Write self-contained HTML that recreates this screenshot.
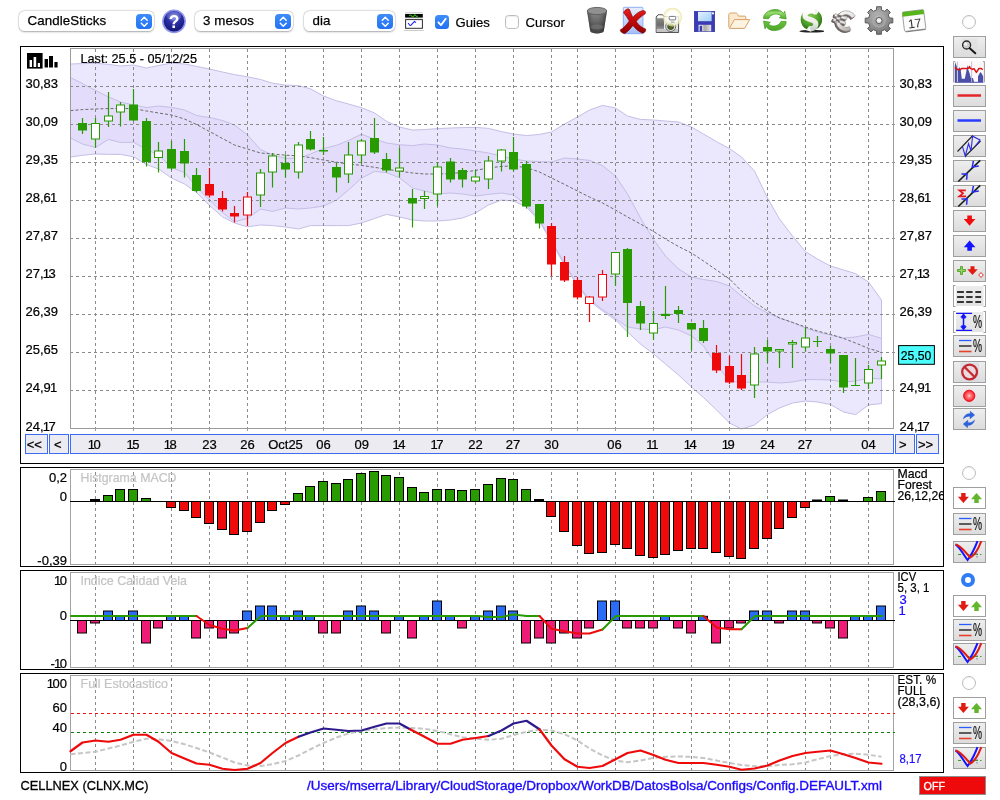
<!DOCTYPE html><html><head><meta charset="utf-8"><title>CELLNEX</title><style>
html,body{margin:0;padding:0;background:#fff}
body{width:1000px;height:800px;position:relative;overflow:hidden;font-family:"Liberation Sans",Arial,sans-serif;font-size:13px;color:#000}
.a{position:absolute}
.sel{position:absolute;top:11px;height:20px;background:#fff;border-radius:5.5px;box-shadow:0 0 0 0.5px rgba(0,0,0,.12),0 0.5px 2px rgba(0,0,0,.30)}
.sel span{position:absolute;left:8.5px;top:2px;font-size:13.3px;line-height:16px;letter-spacing:0.1px;-webkit-text-stroke:0.25px #000}
.stp{position:absolute;right:2px;top:2.5px;width:16.5px;height:15.5px;border-radius:4px;background:linear-gradient(#3f8cf9,#2272f3)}
.lbl{position:absolute;top:14.5px;font-size:13.1px;line-height:16px;-webkit-text-stroke:0.2px #000}
.b{position:absolute;left:953px;width:31px;height:20px;border:1px solid #9f9f9f;background:linear-gradient(#eeeeee,#e4e4e4 55%,#dcdcdc)}
.b.w{background:#fff}
.b.br{border-top-color:transparent;border-bottom-color:transparent;background:linear-gradient(#ececec,#e3e3e3) no-repeat 1.5px 0/27.5px 100%}
.b svg{overflow:visible}
.b svg{position:absolute;left:0;top:0}
.rd{position:absolute;width:12px;height:12px;border-radius:50%;border:1px solid #bdbdbd;background:#fff;box-shadow:inset 0 0.5px 1px rgba(0,0,0,.1)}

</style></head><body><div id="root" style="position:absolute;left:0;top:0;width:1000px;height:800px;will-change:transform">
<svg width="1000" height="800" viewBox="0 0 1000 800" style="position:absolute;left:0;top:0" font-family="'Liberation Sans',Arial,sans-serif" font-size="13" shape-rendering="auto">
<rect x="20.5" y="46.5" width="923" height="417" fill="#fff" stroke="#000"/>
<polygon points="70.5,64 82.5,63.6 95.5,63.2 108.5,64.4 120.5,66 133.5,65 146.5,68 158.5,65.6 171.5,63 184.5,64 196.5,66.4 209.5,69 222.5,72 234.5,74.6 247.5,76.8 260.5,79.5 272.5,83.2 285.5,85.1 298.5,85.6 310.5,88.8 323.5,96 336.5,100.8 348.5,104 361.5,107.7 374.5,112.9 386.5,121.3 399.5,127 412.5,130 424.5,129.6 437.5,128.6 450.5,128 462.5,127.6 475.5,127.4 488.5,128.4 501.5,131.6 513.5,134 526.5,135.6 539.5,134.4 551.5,132 564.5,124 577.5,117 589.5,110 602.5,105.4 615.5,108 627.5,116 640.5,119.4 653.5,120 665.5,121 678.5,122 691.5,127 703.5,134 716.5,141.6 729.5,148.6 741.5,157 754.5,171 767.5,198 779.5,219 792.5,236 805.5,251.6 817.5,259 830.5,266 843.5,270 855.5,273.6 868.5,282 881.5,300 881.5,403.5 868.5,405 855.5,414.6 843.5,412 830.5,404.5 817.5,402 805.5,401 792.5,403 779.5,408 767.5,414.5 754.5,425 741.5,429 729.5,423 716.5,410 703.5,397.5 691.5,387 678.5,375 665.5,364 653.5,354 640.5,344 627.5,332 615.5,320 602.5,311 589.5,301 577.5,286 564.5,265 551.5,242 539.5,221.5 526.5,207 513.5,201 501.5,200 488.5,205 475.5,213 462.5,218 450.5,220 437.5,221 424.5,221 412.5,220 399.5,217 386.5,214.4 374.5,218.5 361.5,223 348.5,225.6 336.5,225.6 323.5,225.6 310.5,225.6 298.5,229 285.5,227 272.5,225.6 260.5,225 247.5,226.9 234.5,223 222.5,216.9 209.5,205.4 196.5,192.4 184.5,184 171.5,178 158.5,169 146.5,164.5 133.5,156.8 120.5,154.4 108.5,154.4 95.5,154 82.5,155.3 70.5,157" fill="#ebe7fd"/>
<polygon points="70.5,77.6 82.5,83.6 95.5,90.4 108.5,97 120.5,102 133.5,105 146.5,107.6 158.5,106 171.5,107.4 184.5,110 196.5,115.5 209.5,117.5 222.5,120.5 234.5,125 247.5,135 260.5,149.5 272.5,155 285.5,158.3 298.5,158.2 310.5,154 323.5,148.5 336.5,145.3 348.5,140.5 361.5,134.2 374.5,139 386.5,143 399.5,144.8 412.5,145.6 424.5,144 437.5,145 450.5,148 462.5,149 475.5,151 488.5,153 501.5,156 513.5,159 526.5,161 539.5,161.6 551.5,162 564.5,158 577.5,159 589.5,160.4 602.5,165.6 615.5,176 627.5,194 640.5,218 653.5,239.5 665.5,256 678.5,269 691.5,277 703.5,279.5 716.5,281.5 729.5,286 741.5,296 754.5,306 767.5,313 779.5,318 792.5,322.4 805.5,328 817.5,332 830.5,335 843.5,338 855.5,337 868.5,334.4 881.5,338.4 881.5,379 868.5,378 855.5,381 843.5,382 830.5,380 817.5,379.6 805.5,379.6 792.5,382 779.5,383 767.5,382 754.5,382 741.5,382.4 729.5,381 716.5,365 703.5,346 691.5,336 678.5,330 665.5,327 653.5,329.6 640.5,329 627.5,327 615.5,318.5 602.5,309.5 589.5,299.5 577.5,284.5 564.5,263.5 551.5,240.5 539.5,220 526.5,205 513.5,195 501.5,193 488.5,194.4 475.5,196 462.5,194 450.5,193 437.5,194 424.5,191 412.5,188 399.5,177.8 386.5,172.6 374.5,171.4 361.5,178.2 348.5,190 336.5,200 323.5,206 310.5,208 298.5,209 285.5,208 272.5,211.4 260.5,209 247.5,218.4 234.5,221.7 222.5,212.6 209.5,200 196.5,187 184.5,172.5 171.5,167.7 158.5,155 146.5,149.5 133.5,142.3 120.5,142.5 108.5,139.4 95.5,147.5 82.5,144 70.5,138" fill="#e3dcfb"/>
<polyline points="70.5,64 82.5,63.6 95.5,63.2 108.5,64.4 120.5,66 133.5,65 146.5,68 158.5,65.6 171.5,63 184.5,64 196.5,66.4 209.5,69 222.5,72 234.5,74.6 247.5,76.8 260.5,79.5 272.5,83.2 285.5,85.1 298.5,85.6 310.5,88.8 323.5,96 336.5,100.8 348.5,104 361.5,107.7 374.5,112.9 386.5,121.3 399.5,127 412.5,130 424.5,129.6 437.5,128.6 450.5,128 462.5,127.6 475.5,127.4 488.5,128.4 501.5,131.6 513.5,134 526.5,135.6 539.5,134.4 551.5,132 564.5,124 577.5,117 589.5,110 602.5,105.4 615.5,108 627.5,116 640.5,119.4 653.5,120 665.5,121 678.5,122 691.5,127 703.5,134 716.5,141.6 729.5,148.6 741.5,157 754.5,171 767.5,198 779.5,219 792.5,236 805.5,251.6 817.5,259 830.5,266 843.5,270 855.5,273.6 868.5,282 881.5,300" fill="none" stroke="#c3bfe6" stroke-width="1"/>
<polyline points="70.5,77.6 82.5,83.6 95.5,90.4 108.5,97 120.5,102 133.5,105 146.5,107.6 158.5,106 171.5,107.4 184.5,110 196.5,115.5 209.5,117.5 222.5,120.5 234.5,125 247.5,135 260.5,149.5 272.5,155 285.5,158.3 298.5,158.2 310.5,154 323.5,148.5 336.5,145.3 348.5,140.5 361.5,134.2 374.5,139 386.5,143 399.5,144.8 412.5,145.6 424.5,144 437.5,145 450.5,148 462.5,149 475.5,151 488.5,153 501.5,156 513.5,159 526.5,161 539.5,161.6 551.5,162 564.5,158 577.5,159 589.5,160.4 602.5,165.6 615.5,176 627.5,194 640.5,218 653.5,239.5 665.5,256 678.5,269 691.5,277 703.5,279.5 716.5,281.5 729.5,286 741.5,296 754.5,306 767.5,313 779.5,318 792.5,322.4 805.5,328 817.5,332 830.5,335 843.5,338 855.5,337 868.5,334.4 881.5,338.4" fill="none" stroke="#c3bfe6" stroke-width="1"/>
<polyline points="70.5,138 82.5,144 95.5,147.5 108.5,139.4 120.5,142.5 133.5,142.3 146.5,149.5 158.5,155 171.5,167.7 184.5,172.5 196.5,187 209.5,200 222.5,212.6 234.5,221.7 247.5,218.4 260.5,209 272.5,211.4 285.5,208 298.5,209 310.5,208 323.5,206 336.5,200 348.5,190 361.5,178.2 374.5,171.4 386.5,172.6 399.5,177.8 412.5,188 424.5,191 437.5,194 450.5,193 462.5,194 475.5,196 488.5,194.4 501.5,193 513.5,195 526.5,205 539.5,220 551.5,240.5 564.5,263.5 577.5,284.5 589.5,299.5 602.5,309.5 615.5,318.5 627.5,327 640.5,329 653.5,329.6 665.5,327 678.5,330 691.5,336 703.5,346 716.5,365 729.5,381 741.5,382.4 754.5,382 767.5,382 779.5,383 792.5,382 805.5,379.6 817.5,379.6 830.5,380 843.5,382 855.5,381 868.5,378 881.5,379" fill="none" stroke="#c3bfe6" stroke-width="1"/>
<polyline points="70.5,157 82.5,155.3 95.5,154 108.5,154.4 120.5,154.4 133.5,156.8 146.5,164.5 158.5,169 171.5,178 184.5,184 196.5,192.4 209.5,205.4 222.5,216.9 234.5,223 247.5,226.9 260.5,225 272.5,225.6 285.5,227 298.5,229 310.5,225.6 323.5,225.6 336.5,225.6 348.5,225.6 361.5,223 374.5,218.5 386.5,214.4 399.5,217 412.5,220 424.5,221 437.5,221 450.5,220 462.5,218 475.5,213 488.5,205 501.5,200 513.5,201 526.5,207 539.5,221.5 551.5,242 564.5,265 577.5,286 589.5,301 602.5,311 615.5,320 627.5,332 640.5,344 653.5,354 665.5,364 678.5,375 691.5,387 703.5,397.5 716.5,410 729.5,423 741.5,429 754.5,425 767.5,414.5 779.5,408 792.5,403 805.5,401 817.5,402 830.5,404.5 843.5,412 855.5,414.6 868.5,405 881.5,403.5" fill="none" stroke="#c3bfe6" stroke-width="1"/>
<line x1="881.5" y1="300" x2="881.5" y2="403.5" stroke="#c3bfe6"/>
<path d="M95.5 49V428M133.5 49V428M171.5 49V428M209.5 49V428M247.5 49V428M285.5 49V428M323.5 49V428M361.5 49V428M399.5 49V428M437.5 49V428M475.5 49V428M513.5 49V428M551.5 49V428M577.5 49V428M615.5 49V428M653.5 49V428M691.5 49V428M729.5 49V428M767.5 49V428M805.5 49V428M830.5 49V428M868.5 49V428M70 86.5H895M70 124.5H895M70 162.5H895M70 200.5H895M70 238.5H895M70 276.5H895M70 314.5H895M70 352.5H895M70 390.5H895" stroke="#8a8a8a" stroke-width="1" stroke-dasharray="3 3" fill="none" shape-rendering="crispEdges"/>
<polyline points="70.5,110.6 82.5,109.6 95.5,109 108.5,108.6 120.5,108.4 133.5,108.6 146.5,111 158.5,113 171.5,115 184.5,119 196.5,124.5 209.5,131.5 222.5,138.5 234.5,145 247.5,149 260.5,153 272.5,154 285.5,155.2 298.5,155.8 310.5,157.6 323.5,160 336.5,162.2 348.5,164 361.5,165.4 374.5,167.3 386.5,169.3 399.5,171.1 412.5,173 424.5,174 437.5,174 450.5,173.6 462.5,172.4 475.5,170.4 488.5,168 501.5,166.4 513.5,166 526.5,167.6 539.5,172 551.5,178 564.5,184.4 577.5,191 589.5,197 602.5,203 615.5,210 627.5,217 640.5,224 653.5,231.5 665.5,239 678.5,246.5 691.5,253 703.5,261 716.5,270 729.5,279 741.5,291 754.5,302 767.5,311 779.5,318 792.5,322.4 805.5,327 817.5,331 830.5,334.4 843.5,338.4 855.5,343 868.5,348.4 881.5,352.4" fill="none" stroke="#6c6c6c" stroke-width="1" stroke-dasharray="3 2"/>
<rect x="70.5" y="48.5" width="823" height="380" fill="none" stroke="#9c9c9c" shape-rendering="crispEdges"/>
<path d="M95.5 428V431M133.5 428V431M171.5 428V431M209.5 428V431M247.5 428V431M285.5 428V431M323.5 428V431M361.5 428V431M399.5 428V431M437.5 428V431M475.5 428V431M513.5 428V431M551.5 428V431M577.5 428V431M615.5 428V431M653.5 428V431M691.5 428V431M729.5 428V431M767.5 428V431M805.5 428V431M830.5 428V431M868.5 428V431" stroke="#9c9c9c" fill="none" shape-rendering="crispEdges"/>
<line x1="82.5" y1="118" x2="82.5" y2="134" stroke="#289b00" stroke-width="1.2"/>
<rect x="78" y="123" width="9" height="7.5" fill="#289b00"/>
<line x1="95.5" y1="118" x2="95.5" y2="147.5" stroke="#289b00" stroke-width="1.2"/>
<rect x="91.5" y="123.5" width="8" height="15.5" fill="#fff" stroke="#289b00" stroke-width="1"/>
<line x1="108.5" y1="92" x2="108.5" y2="127" stroke="#289b00" stroke-width="1.2"/>
<rect x="104.5" y="116" width="8" height="5" fill="#fff" stroke="#289b00" stroke-width="1"/>
<line x1="120.5" y1="102" x2="120.5" y2="126.5" stroke="#289b00" stroke-width="1.2"/>
<rect x="116.5" y="105" width="8" height="7" fill="#fff" stroke="#289b00" stroke-width="1"/>
<line x1="133.5" y1="89" x2="133.5" y2="121" stroke="#289b00" stroke-width="1.2"/>
<rect x="129" y="104.5" width="9" height="16" fill="#289b00"/>
<line x1="146.5" y1="118" x2="146.5" y2="166.5" stroke="#289b00" stroke-width="1.2"/>
<rect x="142" y="121" width="9" height="41" fill="#289b00"/>
<line x1="158.5" y1="142" x2="158.5" y2="172.5" stroke="#289b00" stroke-width="1.2"/>
<rect x="154.5" y="151" width="8" height="6.5" fill="#fff" stroke="#289b00" stroke-width="1"/>
<line x1="171.5" y1="141" x2="171.5" y2="170" stroke="#289b00" stroke-width="1.2"/>
<rect x="167" y="149" width="9" height="19.5" fill="#289b00"/>
<line x1="184.5" y1="139" x2="184.5" y2="177.5" stroke="#289b00" stroke-width="1.2"/>
<rect x="180" y="151" width="9" height="12.5" fill="#289b00"/>
<line x1="196.5" y1="168" x2="196.5" y2="192.5" stroke="#289b00" stroke-width="1.2"/>
<rect x="192" y="175" width="9" height="16" fill="#289b00"/>
<line x1="209.5" y1="168" x2="209.5" y2="197.5" stroke="#ee0a0a" stroke-width="1.2"/>
<rect x="205" y="184" width="9" height="11.5" fill="#ee0a0a"/>
<line x1="222.5" y1="191" x2="222.5" y2="211.5" stroke="#ee0a0a" stroke-width="1.2"/>
<rect x="218" y="198" width="9" height="11.5" fill="#ee0a0a"/>
<line x1="234.5" y1="206" x2="234.5" y2="222.5" stroke="#ee0a0a" stroke-width="1.2"/>
<rect x="230" y="213" width="9" height="3.5" fill="#ee0a0a"/>
<line x1="247.5" y1="192" x2="247.5" y2="226" stroke="#ee0a0a" stroke-width="1.2"/>
<rect x="243.5" y="197" width="8" height="18" fill="#fff" stroke="#ee0a0a" stroke-width="1"/>
<line x1="260.5" y1="169" x2="260.5" y2="207" stroke="#289b00" stroke-width="1.2"/>
<rect x="256.5" y="173" width="8" height="22" fill="#fff" stroke="#289b00" stroke-width="1"/>
<line x1="272.5" y1="153" x2="272.5" y2="187.5" stroke="#289b00" stroke-width="1.2"/>
<rect x="268.5" y="156" width="8" height="16" fill="#fff" stroke="#289b00" stroke-width="1"/>
<line x1="285.5" y1="154.5" x2="285.5" y2="177.5" stroke="#289b00" stroke-width="1.2"/>
<rect x="281" y="163" width="9" height="6.5" fill="#289b00"/>
<line x1="298.5" y1="142" x2="298.5" y2="178.5" stroke="#289b00" stroke-width="1.2"/>
<rect x="294.5" y="145" width="8" height="27" fill="#fff" stroke="#289b00" stroke-width="1"/>
<line x1="310.5" y1="131" x2="310.5" y2="150.5" stroke="#289b00" stroke-width="1.2"/>
<rect x="306" y="139" width="9" height="10.5" fill="#289b00"/>
<line x1="323.5" y1="137" x2="323.5" y2="155" stroke="#289b00" stroke-width="1.2"/>
<rect x="319" y="150" width="9" height="1.5" fill="#289b00"/>
<line x1="336.5" y1="163" x2="336.5" y2="192.5" stroke="#289b00" stroke-width="1.2"/>
<rect x="332" y="167" width="9" height="10.5" fill="#289b00"/>
<line x1="348.5" y1="142" x2="348.5" y2="183" stroke="#289b00" stroke-width="1.2"/>
<rect x="344.5" y="155" width="8" height="19" fill="#fff" stroke="#289b00" stroke-width="1"/>
<line x1="361.5" y1="139" x2="361.5" y2="163.5" stroke="#289b00" stroke-width="1.2"/>
<rect x="357.5" y="141" width="8" height="14" fill="#fff" stroke="#289b00" stroke-width="1"/>
<line x1="374.5" y1="118" x2="374.5" y2="154" stroke="#289b00" stroke-width="1.2"/>
<rect x="370" y="138" width="9" height="14.5" fill="#289b00"/>
<line x1="386.5" y1="153" x2="386.5" y2="172.5" stroke="#289b00" stroke-width="1.2"/>
<rect x="382" y="159" width="9" height="11.5" fill="#289b00"/>
<line x1="399.5" y1="148" x2="399.5" y2="177" stroke="#289b00" stroke-width="1.2"/>
<rect x="395.5" y="168" width="8" height="3" fill="#fff" stroke="#289b00" stroke-width="1"/>
<line x1="412.5" y1="189" x2="412.5" y2="227.5" stroke="#289b00" stroke-width="1.2"/>
<rect x="408" y="198" width="9" height="5.5" fill="#289b00"/>
<line x1="424.5" y1="191" x2="424.5" y2="209" stroke="#289b00" stroke-width="1.2"/>
<rect x="420.5" y="196.5" width="8" height="2" fill="#fff" stroke="#289b00" stroke-width="1"/>
<line x1="437.5" y1="162.5" x2="437.5" y2="206" stroke="#289b00" stroke-width="1.2"/>
<rect x="433.5" y="167" width="8" height="27" fill="#fff" stroke="#289b00" stroke-width="1"/>
<line x1="450.5" y1="158" x2="450.5" y2="182.5" stroke="#289b00" stroke-width="1.2"/>
<rect x="446" y="161.5" width="9" height="18" fill="#289b00"/>
<line x1="462.5" y1="168" x2="462.5" y2="187.5" stroke="#289b00" stroke-width="1.2"/>
<rect x="458" y="170" width="9" height="9.5" fill="#289b00"/>
<line x1="475.5" y1="170" x2="475.5" y2="183" stroke="#289b00" stroke-width="1.2"/>
<rect x="471.5" y="177" width="8" height="4" fill="#fff" stroke="#289b00" stroke-width="1"/>
<line x1="488.5" y1="156" x2="488.5" y2="189" stroke="#289b00" stroke-width="1.2"/>
<rect x="484.5" y="161" width="8" height="18" fill="#fff" stroke="#289b00" stroke-width="1"/>
<line x1="501.5" y1="149" x2="501.5" y2="171.5" stroke="#289b00" stroke-width="1.2"/>
<rect x="497.5" y="150" width="8" height="11" fill="#fff" stroke="#289b00" stroke-width="1"/>
<line x1="513.5" y1="137" x2="513.5" y2="171.5" stroke="#289b00" stroke-width="1.2"/>
<rect x="509" y="152" width="9" height="17.5" fill="#289b00"/>
<line x1="526.5" y1="161" x2="526.5" y2="208.5" stroke="#289b00" stroke-width="1.2"/>
<rect x="522" y="164" width="9" height="42.5" fill="#289b00"/>
<line x1="539.5" y1="204" x2="539.5" y2="228.5" stroke="#289b00" stroke-width="1.2"/>
<rect x="535" y="204" width="9" height="19.5" fill="#289b00"/>
<line x1="551.5" y1="223" x2="551.5" y2="276" stroke="#ee0a0a" stroke-width="1.2"/>
<rect x="547" y="226" width="9" height="38.5" fill="#ee0a0a"/>
<line x1="564.5" y1="256" x2="564.5" y2="282" stroke="#ee0a0a" stroke-width="1.2"/>
<rect x="560" y="262" width="9" height="18.5" fill="#ee0a0a"/>
<line x1="577.5" y1="277" x2="577.5" y2="299.5" stroke="#ee0a0a" stroke-width="1.2"/>
<rect x="573" y="280" width="9" height="17.5" fill="#ee0a0a"/>
<line x1="589.5" y1="296" x2="589.5" y2="322" stroke="#ee0a0a" stroke-width="1.2"/>
<rect x="585.5" y="297" width="8" height="6.5" fill="#fff" stroke="#ee0a0a" stroke-width="1"/>
<line x1="602.5" y1="270" x2="602.5" y2="301" stroke="#ee0a0a" stroke-width="1.2"/>
<rect x="598.5" y="274.5" width="8" height="22.5" fill="#fff" stroke="#ee0a0a" stroke-width="1"/>
<line x1="615.5" y1="252" x2="615.5" y2="286" stroke="#289b00" stroke-width="1.2"/>
<rect x="611.5" y="252.5" width="8" height="21.5" fill="#fff" stroke="#289b00" stroke-width="1"/>
<line x1="627.5" y1="248" x2="627.5" y2="337" stroke="#289b00" stroke-width="1.2"/>
<rect x="623" y="249" width="9" height="54" fill="#289b00"/>
<line x1="640.5" y1="301" x2="640.5" y2="330" stroke="#289b00" stroke-width="1.2"/>
<rect x="636" y="306" width="9" height="17.5" fill="#289b00"/>
<line x1="653.5" y1="311" x2="653.5" y2="340" stroke="#289b00" stroke-width="1.2"/>
<rect x="649.5" y="323.5" width="8" height="9.5" fill="#fff" stroke="#289b00" stroke-width="1"/>
<line x1="665.5" y1="286" x2="665.5" y2="319" stroke="#289b00" stroke-width="1.2"/>
<rect x="661" y="313.8" width="9" height="2.2" fill="#289b00"/>
<line x1="678.5" y1="306" x2="678.5" y2="323" stroke="#289b00" stroke-width="1.2"/>
<rect x="674" y="310" width="9" height="4" fill="#289b00"/>
<line x1="691.5" y1="323" x2="691.5" y2="350.5" stroke="#289b00" stroke-width="1.2"/>
<rect x="687" y="323" width="9" height="6.5" fill="#289b00"/>
<line x1="703.5" y1="320" x2="703.5" y2="343" stroke="#289b00" stroke-width="1.2"/>
<rect x="699" y="328" width="9" height="13" fill="#289b00"/>
<line x1="716.5" y1="345" x2="716.5" y2="373" stroke="#ee0a0a" stroke-width="1.2"/>
<rect x="712" y="353" width="9" height="17.5" fill="#ee0a0a"/>
<line x1="729.5" y1="355.5" x2="729.5" y2="384" stroke="#ee0a0a" stroke-width="1.2"/>
<rect x="725" y="366" width="9" height="16.5" fill="#ee0a0a"/>
<line x1="741.5" y1="354" x2="741.5" y2="390" stroke="#ee0a0a" stroke-width="1.2"/>
<rect x="737" y="375" width="9" height="13.5" fill="#ee0a0a"/>
<line x1="754.5" y1="347" x2="754.5" y2="398" stroke="#289b00" stroke-width="1.2"/>
<rect x="750.5" y="354" width="8" height="31" fill="#fff" stroke="#289b00" stroke-width="1"/>
<line x1="767.5" y1="340" x2="767.5" y2="363" stroke="#289b00" stroke-width="1.2"/>
<rect x="763" y="347" width="9" height="4.5" fill="#289b00"/>
<line x1="779.5" y1="349" x2="779.5" y2="368" stroke="#289b00" stroke-width="1.2"/>
<rect x="775.5" y="349.5" width="8" height="1.5" fill="#fff" stroke="#289b00" stroke-width="1"/>
<line x1="792.5" y1="340" x2="792.5" y2="368" stroke="#289b00" stroke-width="1.2"/>
<rect x="788.5" y="342.5" width="8" height="1.5" fill="#fff" stroke="#289b00" stroke-width="1"/>
<line x1="805.5" y1="327.5" x2="805.5" y2="351.5" stroke="#289b00" stroke-width="1.2"/>
<rect x="801.5" y="338" width="8" height="9" fill="#fff" stroke="#289b00" stroke-width="1"/>
<line x1="817.5" y1="336" x2="817.5" y2="347" stroke="#289b00" stroke-width="1.2"/>
<rect x="813" y="341" width="9" height="1" fill="#289b00"/>
<line x1="830.5" y1="346" x2="830.5" y2="363" stroke="#289b00" stroke-width="1.2"/>
<rect x="826" y="349" width="9" height="4.5" fill="#289b00"/>
<line x1="843.5" y1="355" x2="843.5" y2="393" stroke="#289b00" stroke-width="1.2"/>
<rect x="839" y="355" width="9" height="32.5" fill="#289b00"/>
<line x1="855.5" y1="358" x2="855.5" y2="386" stroke="#289b00" stroke-width="1.2"/>
<rect x="851" y="385" width="9" height="1" fill="#289b00"/>
<line x1="868.5" y1="365" x2="868.5" y2="389" stroke="#289b00" stroke-width="1.2"/>
<rect x="864.5" y="369.5" width="8" height="13.5" fill="#fff" stroke="#289b00" stroke-width="1"/>
<line x1="881.5" y1="357" x2="881.5" y2="379" stroke="#289b00" stroke-width="1.2"/>
<rect x="877.5" y="361" width="8" height="4" fill="#fff" stroke="#289b00" stroke-width="1"/>
<text x="25.5" y="87.6" stroke="#000" stroke-width=".22">30,83</text>
<text x="899.5" y="87.6" stroke="#000" stroke-width=".22">30,83</text>
<text x="25.5" y="125.6" stroke="#000" stroke-width=".22">30,09</text>
<text x="899.5" y="125.6" stroke="#000" stroke-width=".22">30,09</text>
<text x="25.5" y="163.6" stroke="#000" stroke-width=".22">29,35</text>
<text x="899.5" y="163.6" stroke="#000" stroke-width=".22">29,35</text>
<text x="25.5" y="201.6" dx="0 0 0 0 -0.9" stroke="#000" stroke-width=".22">28,61</text>
<text x="899.5" y="201.6" dx="0 0 0 0 -0.9" stroke="#000" stroke-width=".22">28,61</text>
<text x="25.5" y="239.6" stroke="#000" stroke-width=".22">27,87</text>
<text x="899.5" y="239.6" stroke="#000" stroke-width=".22">27,87</text>
<text x="25.5" y="277.6" dx="0 0 0 -0.9 -1.5" stroke="#000" stroke-width=".22">27,13</text>
<text x="899.5" y="277.6" dx="0 0 0 -0.9 -1.5" stroke="#000" stroke-width=".22">27,13</text>
<text x="25.5" y="315.6" stroke="#000" stroke-width=".22">26,39</text>
<text x="899.5" y="315.6" stroke="#000" stroke-width=".22">26,39</text>
<text x="25.5" y="353.6" stroke="#000" stroke-width=".22">25,65</text>
<text x="25.5" y="391.6" dx="0 0 0 0 -0.9" stroke="#000" stroke-width=".22">24,91</text>
<text x="899.5" y="391.6" dx="0 0 0 0 -0.9" stroke="#000" stroke-width=".22">24,91</text>
<text x="25.5" y="430.6" dx="0 0 0 -0.9 -1.5" stroke="#000" stroke-width=".22">24,17</text>
<text x="899.5" y="430.6" dx="0 0 0 -0.9 -1.5" stroke="#000" stroke-width=".22">24,17</text>
<rect x="898.6" y="345.6" width="35.8" height="18.7" fill="#4dfdfd" stroke="#000" stroke-width="1"/>
<text x="900.8" y="359.7" textLength="30.6" lengthAdjust="spacingAndGlyphs" stroke="#000" stroke-width=".22">25,50</text>
<text x="80.5" y="63" textLength="116.5" lengthAdjust="spacingAndGlyphs" stroke="#000" stroke-width=".22">Last: 25.5 - 05/12/25</text>
<rect x="27" y="53" width="15.6" height="15.6" fill="#000"/>
<path d="M29.6 60h2.4v7h-2.4zM33.6 57h2.6v10h-2.6zM37.8 63h2.2v4h-2.2z" fill="#fff"/>
<path d="M44.6 59h3.4v8.6h-3.4zM49 56h4v11.6h-4zM54.4 62h3.2v5.6h-3.2z" fill="#000"/>
<rect x="25.5" y="434.5" width="22" height="19" fill="#ebebf1" stroke="#3b6cf2"/>
<text x="34.3" y="449" text-anchor="middle" stroke="#000" stroke-width=".22">&lt;&lt;</text>
<rect x="49.5" y="434.5" width="19" height="19" fill="#ebebf1" stroke="#3b6cf2"/>
<text x="57.7" y="449" text-anchor="middle" stroke="#000" stroke-width=".22">&lt;</text>
<rect x="70.5" y="434.5" width="823" height="19" fill="#ebebf1" stroke="#3b6cf2"/>
<rect x="895.5" y="434.5" width="19" height="19" fill="#ebebf1" stroke="#3b6cf2"/>
<text x="902.8" y="449" text-anchor="middle" stroke="#000" stroke-width=".22">&gt;</text>
<rect x="916.5" y="434.5" width="22" height="19" fill="#ebebf1" stroke="#3b6cf2"/>
<text x="925.6" y="449" text-anchor="middle" stroke="#000" stroke-width=".22">&gt;&gt;</text>
<text x="88.67" y="449" dx="-0.9 -1.5" stroke="#000" stroke-width=".22">10</text>
<text x="127.37" y="449" dx="-0.9 -1.5" stroke="#000" stroke-width=".22">15</text>
<text x="164.67" y="449" dx="-0.9 -1.5" stroke="#000" stroke-width=".22">18</text>
<text x="209.5" y="449" text-anchor="middle" stroke="#000" stroke-width=".22">23</text>
<text x="247.5" y="449" text-anchor="middle" stroke="#000" stroke-width=".22">26</text>
<text x="285.5" y="449" text-anchor="middle" stroke="#000" stroke-width=".22">Oct25</text>
<text x="323.5" y="449" text-anchor="middle" stroke="#000" stroke-width=".22">06</text>
<text x="361.7" y="449" text-anchor="middle" stroke="#000" stroke-width=".22">09</text>
<text x="393.37" y="449" dx="-0.9 -1.5" stroke="#000" stroke-width=".22">14</text>
<text x="431.37" y="449" dx="-0.9 -1.5" stroke="#000" stroke-width=".22">17</text>
<text x="475.5" y="449" text-anchor="middle" stroke="#000" stroke-width=".22">22</text>
<text x="513" y="449" text-anchor="middle" stroke="#000" stroke-width=".22">27</text>
<text x="551.5" y="449" text-anchor="middle" stroke="#000" stroke-width=".22">30</text>
<text x="614.5" y="449" text-anchor="middle" stroke="#000" stroke-width=".22">06</text>
<text x="647.27" y="449" dx="-0.9 -1.5" stroke="#000" stroke-width=".22">11</text>
<text x="684.67" y="449" dx="-0.9 -1.5" stroke="#000" stroke-width=".22">14</text>
<text x="722.67" y="449" dx="-0.9 -1.5" stroke="#000" stroke-width=".22">19</text>
<text x="767.5" y="449" text-anchor="middle" stroke="#000" stroke-width=".22">24</text>
<text x="805" y="449" text-anchor="middle" stroke="#000" stroke-width=".22">27</text>
<text x="868.5" y="449" text-anchor="middle" stroke="#000" stroke-width=".22">04</text>
<rect x="20.5" y="467.5" width="923" height="99" fill="#fff" stroke="#000"/>
<rect x="70.5" y="469.5" width="823" height="95" fill="none" stroke="#a2a2a2" shape-rendering="crispEdges"/>
<path d="M95.5 472V564M133.5 472V564M171.5 472V564M209.5 472V564M247.5 472V564M285.5 472V564M323.5 472V564M361.5 472V564M399.5 472V564M437.5 472V564M475.5 472V564M513.5 472V564M551.5 472V564M577.5 472V564M615.5 472V564M653.5 472V564M691.5 472V564M729.5 472V564M767.5 472V564M805.5 472V564M830.5 472V564M868.5 472V564" stroke="#8a8a8a" stroke-dasharray="3 3" fill="none" shape-rendering="crispEdges"/>
<text x="80.5" y="482" fill="#c4c4c4" textLength="96" lengthAdjust="spacingAndGlyphs" stroke="#c4c4c4" stroke-width=".22">Histgrama MACD</text>
<rect x="90" y="499" width="10" height="2.5" fill="#000"/>
<rect x="103.5" y="495.5" width="9" height="6" fill="#289b00" stroke="#000"/>
<rect x="115.5" y="489.5" width="9" height="12" fill="#289b00" stroke="#000"/>
<rect x="128.5" y="489.5" width="9" height="12" fill="#289b00" stroke="#000"/>
<rect x="141.5" y="498.5" width="9" height="3" fill="#289b00" stroke="#000"/>
<rect x="166.5" y="501.5" width="9" height="6" fill="#ee0a0a" stroke="#000"/>
<rect x="179.5" y="501.5" width="9" height="9" fill="#ee0a0a" stroke="#000"/>
<rect x="191.5" y="501.5" width="9" height="16" fill="#ee0a0a" stroke="#000"/>
<rect x="204.5" y="501.5" width="9" height="22" fill="#ee0a0a" stroke="#000"/>
<rect x="217.5" y="501.5" width="9" height="28" fill="#ee0a0a" stroke="#000"/>
<rect x="229.5" y="501.5" width="9" height="33" fill="#ee0a0a" stroke="#000"/>
<rect x="242.5" y="501.5" width="9" height="30" fill="#ee0a0a" stroke="#000"/>
<rect x="255.5" y="501.5" width="9" height="21" fill="#ee0a0a" stroke="#000"/>
<rect x="267.5" y="501.5" width="9" height="9" fill="#ee0a0a" stroke="#000"/>
<rect x="280.5" y="501.5" width="9" height="3" fill="#ee0a0a" stroke="#000"/>
<rect x="293.5" y="493.5" width="9" height="8" fill="#289b00" stroke="#000"/>
<rect x="305.5" y="486.5" width="9" height="15" fill="#289b00" stroke="#000"/>
<rect x="318.5" y="481.5" width="9" height="20" fill="#289b00" stroke="#000"/>
<rect x="331.5" y="483.5" width="9" height="18" fill="#289b00" stroke="#000"/>
<rect x="343.5" y="479.5" width="9" height="22" fill="#289b00" stroke="#000"/>
<rect x="356.5" y="473.5" width="9" height="28" fill="#289b00" stroke="#000"/>
<rect x="369.5" y="471.5" width="9" height="30" fill="#289b00" stroke="#000"/>
<rect x="381.5" y="475.5" width="9" height="26" fill="#289b00" stroke="#000"/>
<rect x="394.5" y="477.5" width="9" height="24" fill="#289b00" stroke="#000"/>
<rect x="407.5" y="487.5" width="9" height="14" fill="#289b00" stroke="#000"/>
<rect x="419.5" y="492.5" width="9" height="9" fill="#289b00" stroke="#000"/>
<rect x="432.5" y="489.5" width="9" height="12" fill="#289b00" stroke="#000"/>
<rect x="445.5" y="489.5" width="9" height="12" fill="#289b00" stroke="#000"/>
<rect x="457.5" y="490.5" width="9" height="11" fill="#289b00" stroke="#000"/>
<rect x="470.5" y="489.5" width="9" height="12" fill="#289b00" stroke="#000"/>
<rect x="483.5" y="484.5" width="9" height="17" fill="#289b00" stroke="#000"/>
<rect x="496.5" y="478.5" width="9" height="23" fill="#289b00" stroke="#000"/>
<rect x="508.5" y="479.5" width="9" height="22" fill="#289b00" stroke="#000"/>
<rect x="521.5" y="489.5" width="9" height="12" fill="#289b00" stroke="#000"/>
<rect x="534" y="499" width="10" height="2.5" fill="#000"/>
<rect x="546.5" y="501.5" width="9" height="15" fill="#ee0a0a" stroke="#000"/>
<rect x="559.5" y="501.5" width="9" height="30" fill="#ee0a0a" stroke="#000"/>
<rect x="572.5" y="501.5" width="9" height="44" fill="#ee0a0a" stroke="#000"/>
<rect x="584.5" y="501.5" width="9" height="52" fill="#ee0a0a" stroke="#000"/>
<rect x="597.5" y="501.5" width="9" height="51" fill="#ee0a0a" stroke="#000"/>
<rect x="610.5" y="501.5" width="9" height="43" fill="#ee0a0a" stroke="#000"/>
<rect x="622.5" y="501.5" width="9" height="47" fill="#ee0a0a" stroke="#000"/>
<rect x="635.5" y="501.5" width="9" height="54" fill="#ee0a0a" stroke="#000"/>
<rect x="648.5" y="501.5" width="9" height="56" fill="#ee0a0a" stroke="#000"/>
<rect x="660.5" y="501.5" width="9" height="53" fill="#ee0a0a" stroke="#000"/>
<rect x="673.5" y="501.5" width="9" height="49" fill="#ee0a0a" stroke="#000"/>
<rect x="686.5" y="501.5" width="9" height="47" fill="#ee0a0a" stroke="#000"/>
<rect x="698.5" y="501.5" width="9" height="47" fill="#ee0a0a" stroke="#000"/>
<rect x="711.5" y="501.5" width="9" height="51" fill="#ee0a0a" stroke="#000"/>
<rect x="724.5" y="501.5" width="9" height="55" fill="#ee0a0a" stroke="#000"/>
<rect x="736.5" y="501.5" width="9" height="57" fill="#ee0a0a" stroke="#000"/>
<rect x="749.5" y="501.5" width="9" height="47" fill="#ee0a0a" stroke="#000"/>
<rect x="762.5" y="501.5" width="9" height="37" fill="#ee0a0a" stroke="#000"/>
<rect x="774.5" y="501.5" width="9" height="27" fill="#ee0a0a" stroke="#000"/>
<rect x="787.5" y="501.5" width="9" height="16" fill="#ee0a0a" stroke="#000"/>
<rect x="800.5" y="501.5" width="9" height="6" fill="#ee0a0a" stroke="#000"/>
<rect x="812" y="499.5" width="10" height="2" fill="#000"/>
<rect x="825.5" y="496.5" width="9" height="5" fill="#289b00" stroke="#000"/>
<rect x="838" y="499.5" width="10" height="2" fill="#000"/>
<rect x="863.5" y="497.5" width="9" height="4" fill="#289b00" stroke="#000"/>
<rect x="876.5" y="491.5" width="9" height="10" fill="#289b00" stroke="#000"/>
<line x1="70" y1="501.5" x2="895" y2="501.5" stroke="#000"/>
<text x="67" y="482" text-anchor="end" stroke="#000" stroke-width=".22">0,2</text>
<text x="67" y="501" text-anchor="end" stroke="#000" stroke-width=".22">0</text>
<text x="67" y="565" text-anchor="end" stroke="#000" stroke-width=".22">-0,39</text>
<clipPath id="cpm"><rect x="894" y="468" width="49" height="98"/></clipPath><g clip-path="url(#cpm)"><text x="897.5" y="478.2" textLength="30" lengthAdjust="spacingAndGlyphs" stroke="#000" stroke-width=".22">Macd</text><text x="897.5" y="489.2" textLength="34.5" lengthAdjust="spacingAndGlyphs" stroke="#000" stroke-width=".22">Forest</text><text x="897.5" y="500.4" textLength="47.5" lengthAdjust="spacingAndGlyphs" stroke="#000" stroke-width=".22">26,12,26</text></g>
<rect x="20.5" y="570.5" width="923" height="99" fill="#fff" stroke="#000"/>
<rect x="70.5" y="572.5" width="823" height="95" fill="none" stroke="#a2a2a2" shape-rendering="crispEdges"/>
<path d="M95.5 575V667M133.5 575V667M171.5 575V667M209.5 575V667M247.5 575V667M285.5 575V667M323.5 575V667M361.5 575V667M399.5 575V667M437.5 575V667M475.5 575V667M513.5 575V667M551.5 575V667M577.5 575V667M615.5 575V667M653.5 575V667M691.5 575V667M729.5 575V667M767.5 575V667M805.5 575V667M830.5 575V667M868.5 575V667" stroke="#8a8a8a" stroke-dasharray="3 3" fill="none" shape-rendering="crispEdges"/>
<text x="80.5" y="585" fill="#c4c4c4" textLength="106.5" lengthAdjust="spacingAndGlyphs" stroke="#c4c4c4" stroke-width=".22">Indice Calidad Vela</text>
<rect x="77.5" y="620.5" width="9" height="12.5" fill="#ee1c77" stroke="#000"/>
<rect x="90.5" y="620.5" width="9" height="2.5" fill="#ee1c77" stroke="#000"/>
<rect x="103.5" y="611" width="9" height="9.5" fill="#2b6cf6" stroke="#000"/>
<rect x="115.5" y="616.3" width="9" height="4.2" fill="#2b6cf6" stroke="#000"/>
<rect x="128.5" y="611" width="9" height="9.5" fill="#2b6cf6" stroke="#000"/>
<rect x="141.5" y="620.5" width="9" height="22.5" fill="#ee1c77" stroke="#000"/>
<rect x="153.5" y="620.5" width="9" height="7.5" fill="#ee1c77" stroke="#000"/>
<rect x="166.5" y="616.3" width="9" height="4.2" fill="#2b6cf6" stroke="#000"/>
<rect x="179.5" y="616.3" width="9" height="4.2" fill="#2b6cf6" stroke="#000"/>
<rect x="191.5" y="620.5" width="9" height="17.5" fill="#ee1c77" stroke="#000"/>
<rect x="204.5" y="620.5" width="9" height="7.5" fill="#ee1c77" stroke="#000"/>
<rect x="217.5" y="620.5" width="9" height="17.5" fill="#ee1c77" stroke="#000"/>
<rect x="229.5" y="620.5" width="9" height="12.5" fill="#ee1c77" stroke="#000"/>
<rect x="242.5" y="611" width="9" height="9.5" fill="#2b6cf6" stroke="#000"/>
<rect x="255.5" y="606" width="9" height="14.5" fill="#2b6cf6" stroke="#000"/>
<rect x="267.5" y="606" width="9" height="14.5" fill="#2b6cf6" stroke="#000"/>
<rect x="280.5" y="616.3" width="9" height="4.2" fill="#2b6cf6" stroke="#000"/>
<rect x="293.5" y="611" width="9" height="9.5" fill="#2b6cf6" stroke="#000"/>
<rect x="305.5" y="616.3" width="9" height="4.2" fill="#2b6cf6" stroke="#000"/>
<rect x="318.5" y="620.5" width="9" height="12.5" fill="#ee1c77" stroke="#000"/>
<rect x="331.5" y="620.5" width="9" height="12.5" fill="#ee1c77" stroke="#000"/>
<rect x="343.5" y="611" width="9" height="9.5" fill="#2b6cf6" stroke="#000"/>
<rect x="356.5" y="606" width="9" height="14.5" fill="#2b6cf6" stroke="#000"/>
<rect x="369.5" y="611" width="9" height="9.5" fill="#2b6cf6" stroke="#000"/>
<rect x="381.5" y="620.5" width="9" height="12.5" fill="#ee1c77" stroke="#000"/>
<rect x="394.5" y="616.3" width="9" height="4.2" fill="#2b6cf6" stroke="#000"/>
<rect x="407.5" y="620.5" width="9" height="17.5" fill="#ee1c77" stroke="#000"/>
<rect x="419.5" y="616.3" width="9" height="4.2" fill="#2b6cf6" stroke="#000"/>
<rect x="432.5" y="601" width="9" height="19.5" fill="#2b6cf6" stroke="#000"/>
<rect x="445.5" y="616.3" width="9" height="4.2" fill="#2b6cf6" stroke="#000"/>
<rect x="457.5" y="620.5" width="9" height="7.5" fill="#ee1c77" stroke="#000"/>
<rect x="470.5" y="616.3" width="9" height="4.2" fill="#2b6cf6" stroke="#000"/>
<rect x="483.5" y="611" width="9" height="9.5" fill="#2b6cf6" stroke="#000"/>
<rect x="496.5" y="606" width="9" height="14.5" fill="#2b6cf6" stroke="#000"/>
<rect x="508.5" y="611" width="9" height="9.5" fill="#2b6cf6" stroke="#000"/>
<rect x="521.5" y="620.5" width="9" height="22.5" fill="#ee1c77" stroke="#000"/>
<rect x="534.5" y="620.5" width="9" height="17.5" fill="#ee1c77" stroke="#000"/>
<rect x="546.5" y="620.5" width="9" height="22.5" fill="#ee1c77" stroke="#000"/>
<rect x="559.5" y="620.5" width="9" height="12.5" fill="#ee1c77" stroke="#000"/>
<rect x="572.5" y="620.5" width="9" height="17.5" fill="#ee1c77" stroke="#000"/>
<rect x="584.5" y="620.5" width="9" height="7.5" fill="#ee1c77" stroke="#000"/>
<rect x="597.5" y="601" width="9" height="19.5" fill="#2b6cf6" stroke="#000"/>
<rect x="610.5" y="601" width="9" height="19.5" fill="#2b6cf6" stroke="#000"/>
<rect x="622.5" y="620.5" width="9" height="7.5" fill="#ee1c77" stroke="#000"/>
<rect x="635.5" y="620.5" width="9" height="7.5" fill="#ee1c77" stroke="#000"/>
<rect x="648.5" y="620.5" width="9" height="7.5" fill="#ee1c77" stroke="#000"/>
<rect x="660.5" y="616.3" width="9" height="4.2" fill="#2b6cf6" stroke="#000"/>
<rect x="673.5" y="620.5" width="9" height="7.5" fill="#ee1c77" stroke="#000"/>
<rect x="686.5" y="620.5" width="9" height="12.5" fill="#ee1c77" stroke="#000"/>
<rect x="698.5" y="616.3" width="9" height="4.2" fill="#2b6cf6" stroke="#000"/>
<rect x="711.5" y="620.5" width="9" height="22.5" fill="#ee1c77" stroke="#000"/>
<rect x="724.5" y="620.5" width="9" height="7.5" fill="#ee1c77" stroke="#000"/>
<rect x="736.5" y="620.5" width="9" height="2.5" fill="#ee1c77" stroke="#000"/>
<rect x="749.5" y="611" width="9" height="9.5" fill="#2b6cf6" stroke="#000"/>
<rect x="762.5" y="611" width="9" height="9.5" fill="#2b6cf6" stroke="#000"/>
<rect x="774.5" y="620.5" width="9" height="2.5" fill="#ee1c77" stroke="#000"/>
<rect x="787.5" y="611" width="9" height="9.5" fill="#2b6cf6" stroke="#000"/>
<rect x="800.5" y="611" width="9" height="9.5" fill="#2b6cf6" stroke="#000"/>
<rect x="812.5" y="620.5" width="9" height="2.5" fill="#ee1c77" stroke="#000"/>
<rect x="825.5" y="620.5" width="9" height="7.5" fill="#ee1c77" stroke="#000"/>
<rect x="838.5" y="620.5" width="9" height="17.5" fill="#ee1c77" stroke="#000"/>
<rect x="850.5" y="616.3" width="9" height="4.2" fill="#2b6cf6" stroke="#000"/>
<rect x="863.5" y="616.3" width="9" height="4.2" fill="#2b6cf6" stroke="#000"/>
<rect x="876.5" y="606" width="9" height="14.5" fill="#2b6cf6" stroke="#000"/>
<line x1="70" y1="620.5" x2="895" y2="620.5" stroke="#000"/>
<polyline points="71,616 196.5,616" fill="none" stroke="#289b00" stroke-width="2" stroke-linejoin="round" stroke-linecap="round"/>
<polyline points="196.5,616 209.5,625 222.5,628.8 234.5,630.5 247.5,628" fill="none" stroke="#ee0a0a" stroke-width="2" stroke-linejoin="round" stroke-linecap="round"/>
<polyline points="247.5,628 261,616 478,616 488.5,617 501.5,617 513.5,614.5 526.5,616 539.5,616" fill="none" stroke="#289b00" stroke-width="2" stroke-linejoin="round" stroke-linecap="round"/>
<polyline points="539.5,616 551.5,628.8 564.5,631.3 577.5,633.5 589.5,633.5 602.5,629.5" fill="none" stroke="#ee0a0a" stroke-width="2" stroke-linejoin="round" stroke-linecap="round"/>
<polyline points="602.5,629.5 616,616 703.5,616" fill="none" stroke="#289b00" stroke-width="2" stroke-linejoin="round" stroke-linecap="round"/>
<polyline points="703.5,616 716.5,627.5 729.5,629.3 741.5,629.3" fill="none" stroke="#ee0a0a" stroke-width="2" stroke-linejoin="round" stroke-linecap="round"/>
<polyline points="741.5,629.3 755,616 882,616" fill="none" stroke="#289b00" stroke-width="2" stroke-linejoin="round" stroke-linecap="round"/>
<text x="67.9" y="585.3" text-anchor="end" dx="-.9 -1.5" stroke="#000" stroke-width=".22">10</text>
<text x="67" y="620" text-anchor="end" stroke="#000" stroke-width=".22">0</text>
<text x="67" y="668" text-anchor="end" dx="0 -.9 -1.5" stroke="#000" stroke-width=".22">-10</text>
<text x="897.5" y="581" textLength="18.6" lengthAdjust="spacingAndGlyphs" stroke="#000" stroke-width=".22">ICV</text><text x="897.5" y="591.9" textLength="32" lengthAdjust="spacingAndGlyphs" stroke="#000" stroke-width=".22">5, 3, 1</text><text x="899.4" y="604.4" fill="#1c0aff" stroke="#1c0aff" stroke-width=".22">3</text><text x="898.6" y="614.6" fill="#1c0aff" stroke="#1c0aff" stroke-width=".22">1</text>
<rect x="20.5" y="673.5" width="923" height="99" fill="#fff" stroke="#000"/>
<rect x="70.5" y="675.5" width="823" height="95" fill="none" stroke="#a2a2a2" shape-rendering="crispEdges"/>
<path d="M95.5 678V770M133.5 678V770M171.5 678V770M209.5 678V770M247.5 678V770M285.5 678V770M323.5 678V770M361.5 678V770M399.5 678V770M437.5 678V770M475.5 678V770M513.5 678V770M551.5 678V770M577.5 678V770M615.5 678V770M653.5 678V770M691.5 678V770M729.5 678V770M767.5 678V770M805.5 678V770M830.5 678V770M868.5 678V770" stroke="#8a8a8a" stroke-dasharray="3 3" fill="none" shape-rendering="crispEdges"/>
<text x="80.5" y="688" fill="#c4c4c4" textLength="87.5" lengthAdjust="spacingAndGlyphs" stroke="#c4c4c4" stroke-width=".22">Full Estocastico</text>
<line x1="71" y1="713.5" x2="895" y2="713.5" stroke="#e11" stroke-dasharray="3 3" shape-rendering="crispEdges"/>
<line x1="71" y1="732.5" x2="895" y2="732.5" stroke="#0a7a0a" stroke-dasharray="3 3" shape-rendering="crispEdges"/>
<polyline points="70.5,754.25 95.5,751.75 120.5,745.5 133.5,741.75 146.5,738.75 158.5,739.25 171.5,741 184.5,744.25 196.5,748 209.5,752.5 222.5,757.5 234.5,762.5 247.5,765.5 260.5,766 272.5,764.25 285.5,761 298.5,755.5 310.5,749.25 323.5,743 336.5,737.5 348.5,733.5 361.5,731 374.5,729.25 386.5,728 399.5,727.5 412.5,728 424.5,728.75 437.5,731 450.5,734.25 462.5,737.25 475.5,738.75 488.5,739.75 501.5,738.75 513.5,735 526.5,731.75 539.5,729.75 551.5,730.5 564.5,734.25 577.5,740.5 589.5,748.5 602.5,755.5 615.5,760.5 627.5,762.25 640.5,760.5 653.5,758 665.5,756.75 678.5,756.5 691.5,756.75 703.5,758 716.5,760.5 729.5,763 741.5,765 754.5,766.25 767.5,766.25 779.5,765 792.5,764.25 805.5,762.5 817.5,759.25 830.5,756 843.5,754.25 855.5,753.75 868.5,754.75 881.5,756.75" fill="none" stroke="#c6c6c6" stroke-width="2" stroke-dasharray="5 2.5"/>
<polyline points="70.5,751.25 82.5,742.5 95.5,740.5 108.5,741.75 120.5,739.75 133.5,734.75 146.5,734.75 158.5,741.75 171.5,753 184.5,758.5 196.5,763.5 209.5,764.75 222.5,768.75 234.5,770 247.5,768.75 260.5,763 272.5,753 285.5,743 298.5,736.75" fill="none" stroke="#ee0a0a" stroke-width="2.2" stroke-linejoin="round" stroke-linecap="round"/>
<polyline points="298.5,736.75 310.5,732.5 323.5,728.5 336.5,729.75 348.5,731 361.5,730.5 374.5,726.75 386.5,723.5 399.5,723.5 410,729.2" fill="none" stroke="#2d1a8c" stroke-width="2.2" stroke-linejoin="round" stroke-linecap="round"/>
<polyline points="410,729.2 412.5,730.5 424.5,736.75 437.5,743.75 450.5,743.75 462.5,739.75 475.5,738 488.5,736" fill="none" stroke="#ee0a0a" stroke-width="2.2" stroke-linejoin="round" stroke-linecap="round"/>
<polyline points="488.5,736 501.5,730.5 513.5,723.5 526.5,720.75 539.5,729.25" fill="none" stroke="#2d1a8c" stroke-width="2.2" stroke-linejoin="round" stroke-linecap="round"/>
<polyline points="539.5,729.25 551.5,745.5 564.5,759.25 577.5,766.75 589.5,768 602.5,766 615.5,759.25 627.5,753 640.5,750.5 653.5,755 665.5,759.75 678.5,763 691.5,763 703.5,763 716.5,764.75 729.5,766.75 741.5,769.75 754.5,768.5 767.5,765.5 779.5,760.5 792.5,756 805.5,753 817.5,751.75 830.5,750.5 843.5,754.25 855.5,758 868.5,762.5 881.5,763.75" fill="none" stroke="#ee0a0a" stroke-width="2.2" stroke-linejoin="round" stroke-linecap="round"/>
<text x="67.9" y="687.6" text-anchor="end" dx="-.9 -1.5 0" stroke="#000" stroke-width=".22">100</text>
<text x="67" y="712.2" text-anchor="end" stroke="#000" stroke-width=".22">60</text>
<text x="67" y="731.5" text-anchor="end" stroke="#000" stroke-width=".22">40</text>
<text x="67" y="770.9" text-anchor="end" stroke="#000" stroke-width=".22">0</text>
<text x="897.5" y="684.3" textLength="38.6" lengthAdjust="spacingAndGlyphs" stroke="#000" stroke-width=".22">EST. %</text><text x="897.5" y="695.2" textLength="28.3" lengthAdjust="spacingAndGlyphs" stroke="#000" stroke-width=".22">FULL</text><text x="897.5" y="706.4" textLength="43" lengthAdjust="spacingAndGlyphs" stroke="#000" stroke-width=".22">(28,3,6)</text>
<text x="899.5" y="762.8" fill="#1c0aff" textLength="22" lengthAdjust="spacingAndGlyphs" stroke="#1c0aff" stroke-width=".22">8,17</text>
<text x="20.5" y="789.8" textLength="128" lengthAdjust="spacingAndGlyphs" stroke="#000" stroke-width="0.3">CELLNEX (CLNX.MC)</text>
<text x="307" y="789.8" fill="#1c0aff" stroke="#1c0aff" stroke-width="0.35" textLength="575" lengthAdjust="spacingAndGlyphs">/Users/mserra/Library/CloudStorage/Dropbox/WorkDB/DatosBolsa/Configs/Config.DEFAULT.xml</text>
<rect x="919.5" y="776.5" width="66" height="18" fill="#ee0a0a" stroke="#8e8e8e"/>
<text x="923.6" y="789.5" fill="#fff" font-size="11.5" stroke="#fff" stroke-width="0.35" textLength="21.5" lengthAdjust="spacingAndGlyphs">OFF</text>
</svg>
<div class="sel" style="left:19px;width:135px"><span>CandleSticks</span><div class="stp"><svg width="16.5" height="15.5" viewBox="0 0 16.5 15.5"><path d="M5.3 6.2L8.25 3.3L11.2 6.2M5.3 9.3L8.25 12.2L11.2 9.3" fill="none" stroke="#fff" stroke-width="1.5" stroke-linecap="round" stroke-linejoin="round"/></svg></div></div>
<div class="sel" style="left:194.5px;width:98.5px"><span>3 mesos</span><div class="stp"><svg width="16.5" height="15.5" viewBox="0 0 16.5 15.5"><path d="M5.3 6.2L8.25 3.3L11.2 6.2M5.3 9.3L8.25 12.2L11.2 9.3" fill="none" stroke="#fff" stroke-width="1.5" stroke-linecap="round" stroke-linejoin="round"/></svg></div></div>
<div class="sel" style="left:304px;width:91px"><span>dia</span><div class="stp"><svg width="16.5" height="15.5" viewBox="0 0 16.5 15.5"><path d="M5.3 6.2L8.25 3.3L11.2 6.2M5.3 9.3L8.25 12.2L11.2 9.3" fill="none" stroke="#fff" stroke-width="1.5" stroke-linecap="round" stroke-linejoin="round"/></svg></div></div>
<svg class="a" style="left:161px;top:8px" width="26" height="26" viewBox="0 0 26 26"><defs><radialGradient id="hg" cx="50%" cy="30%" r="70%"><stop offset="0" stop-color="#7f86e8"/><stop offset=".45" stop-color="#2a2fa8"/><stop offset="1" stop-color="#15176e"/></radialGradient></defs><circle cx="13" cy="13.3" r="11.9" fill="#8f94ee"/><circle cx="13" cy="13.3" r="10.3" fill="url(#hg)"/><ellipse cx="13" cy="8" rx="7.5" ry="4.5" fill="#fff" opacity=".18"/><text x="13" y="19.5" text-anchor="middle" font-family="'Liberation Sans',Arial,sans-serif" font-weight="bold" font-size="17.5" fill="#fff">?</text></svg>
<svg class="a" style="left:404px;top:11px" width="21" height="21" viewBox="0 0 21 21"><rect x="1.1" y="1.2" width="17.6" height="1.2" fill="#cfcfcf"/><rect x="1.1" y="3" width="17.7" height="3.6" fill="#050505"/><path d="M5.3 5c.8-1.3 1.5-1.3 2.3 0s1.6 1 2.4-.2s1.3-1.2 1.9-.1s1.3.8 2 .2" fill="none" stroke="#2bb80f" stroke-width="1.1"/><rect x="1" y="7.2" width="18" height=".6" fill="#d8d8d8"/><rect x="1.6" y="8.6" width="16.8" height="8.7" fill="#fff" stroke="#2e2e2e" stroke-width="1"/><path d="M4.3 12.3L6 14.5L6.8 14.3L10.5 10.3L11.7 11.5" fill="none" stroke="#1a1aff" stroke-width="1.05" stroke-linejoin="round" stroke-linecap="round"/><rect x=".2" y="19" width="19.6" height=".9" fill="#c6c6c6"/></svg>
<div class="a" style="left:435px;top:15px;width:14px;height:14px;border-radius:3.5px;background:linear-gradient(#3f8cf9,#2170f2)"><svg width="14" height="14" viewBox="0 0 14 14"><path d="M3.4 7.3L6 10.1L10.7 3.7" fill="none" stroke="#fff" stroke-width="1.8" stroke-linecap="round" stroke-linejoin="round"/></svg></div>
<div class="lbl" style="left:455.5px">Guies</div>
<div class="a" style="left:505px;top:15px;width:12.2px;height:12.2px;border-radius:3.5px;background:#fff;border:0.7px solid #bdbdbd;box-shadow:inset 0 0.5px 1.5px rgba(0,0,0,.12)"></div>
<div class="lbl" style="left:525.5px">Cursor</div>
<svg class="a" style="left:585px;top:6px" width="24" height="29" viewBox="0 0 24 29"><defs><linearGradient id="tg" x1="0" y1="0" x2="0" y2="1"><stop offset="0" stop-color="#7d7d7d"/><stop offset=".45" stop-color="#5a5a5a"/><stop offset=".7" stop-color="#3a3a3a"/><stop offset="1" stop-color="#262626"/></linearGradient><linearGradient id="tg2" x1="0" x2="1"><stop offset="0" stop-color="#000" stop-opacity=".35"/><stop offset=".4" stop-color="#fff" stop-opacity=".12"/><stop offset="1" stop-color="#000" stop-opacity=".4"/></linearGradient></defs>
<path d="M2 5C2 3 22 3 22 5L18.8 25C18.3 28.3 5.7 28.3 5.2 25Z" fill="url(#tg)"/><path d="M2 5C2 3 22 3 22 5L18.8 25C18.3 28.3 5.7 28.3 5.2 25Z" fill="url(#tg2)"/><ellipse cx="12" cy="21" rx="6.3" ry="2.6" fill="#8a8a8a" opacity=".45"/><ellipse cx="12" cy="5" rx="9.8" ry="3.6" fill="#909090" stroke="#5c5c5c" stroke-width=".9"/></svg>
<svg class="a" style="left:619px;top:6px" width="28" height="29" viewBox="0 0 28 29"><defs><linearGradient id="xg" x1="0" y1="0" x2="0" y2="1"><stop offset="0" stop-color="#e82020"/><stop offset=".5" stop-color="#c00808"/><stop offset="1" stop-color="#8e0000"/></linearGradient></defs>
<linearGradient id="pgx" x1="0" y1="0" x2="0" y2="1"><stop offset="0" stop-color="#e8effd"/><stop offset="1" stop-color="#a4bdf8"/></linearGradient><rect x="4.3" y="1.3" width="19.6" height="26.4" rx="1" fill="url(#pgx)" stroke="#86a6f3" stroke-width=".9"/>
<path d="M4.5 6.5C6.5 3 9.5 2 10.5 3.5C11.5 6 12.5 9 13.8 11.5C16.5 8 20.5 5 24.5 4.5C26.5 4.8 27 6.5 26 8C22.5 10 19.5 12.5 17.3 15.5C19.5 19 22.5 21.5 26.7 23C27 25 26 26.5 24 27.3C20 26 16.5 23 14 19.5C11.5 22.5 9 25.5 6 27.5C3.5 27.5 1.5 26 1.2 24C4.5 22 8 18.5 10.3 15C8.5 12 6.5 9 4.5 6.5Z" fill="url(#xg)" stroke="#7a0000" stroke-width=".6"/></svg>
<svg class="a" style="left:653px;top:4px" width="34" height="31" viewBox="0 0 34 31"><defs><radialGradient id="fg"><stop offset="0" stop-color="#ffffff" stop-opacity=".95"/><stop offset=".55" stop-color="#ffffff" stop-opacity=".85"/><stop offset=".8" stop-color="#f6f3c8" stop-opacity=".8"/><stop offset=".92" stop-color="#e2dc96" stop-opacity=".6"/><stop offset="1" stop-color="#e2dc96" stop-opacity="0"/></radialGradient><linearGradient id="cg" x1="0" y1="0" x2="0" y2="1"><stop offset="0" stop-color="#8a8a8a"/><stop offset=".6" stop-color="#6c6c6c"/><stop offset="1" stop-color="#9a9a9a"/></linearGradient></defs>
<path d="M3.2 13L5 10.8h4.6l1.4 1.7h14.6v16H3.2z" fill="#e9e9e9" stroke="#4a4a4a" stroke-width="1"/><rect x="3.7" y="14.3" width="7.3" height="11" fill="url(#cg)"/><path d="M4 13.8L5.3 11.5h4l1.3 2.3z" fill="#fafafa"/><rect x="3.7" y="25.3" width="21.4" height="2.8" fill="#c4c4c4"/><circle cx="17.7" cy="22.5" r="5" fill="#e3e3e3" stroke="#6a6a6a" stroke-width="1"/><circle cx="17.7" cy="22.6" r="3" fill="#4f6427" stroke="#2e3a18" stroke-width=".8"/>
<circle cx="19.5" cy="13.1" r="9.9" fill="url(#fg)"/><rect x="16.2" y="12.4" width="6.5" height="3.5" rx="1" fill="#fff" stroke="#555" stroke-width=".8"/><path d="M18 18.2h3.5" stroke="#777" stroke-width=".7"/></svg>
<svg class="a" style="left:694px;top:11px" width="21" height="21" viewBox="0 0 21 21"><defs><linearGradient id="lb" x1="0" y1="0" x2="1" y2="1"><stop offset="0" stop-color="#e4f2fe"/><stop offset="1" stop-color="#9fd0f7"/></linearGradient><linearGradient id="sh" x1="0" x2="1"><stop offset="0" stop-color="#fff"/><stop offset=".5" stop-color="#aaa"/><stop offset="1" stop-color="#e6e6e6"/></linearGradient></defs>
<rect x="0.2" y="0.2" width="20.6" height="20.6" fill="#3b3bb6" stroke="#2c2c96" stroke-width=".6"/><rect x="4" y=".8" width="13.6" height="9.4" fill="url(#lb)"/><rect x="4.6" y="13.8" width="12.6" height="6.6" fill="url(#sh)"/><rect x="5.6" y="14.8" width="2.4" height="5.6" fill="#3b3bb6"/><rect x="18" y="1.4" width="1.9" height="1.9" fill="#fff"/></svg>
<svg class="a" style="left:727px;top:12px" width="24" height="18" viewBox="0 0 24 18"><path d="M1.8 15.3V2.8C1.8 1.6 2.6 1 3.6 1h5.2c1 0 1.5.6 1.9 1.5l.7 1.6h6.4c.7 0 1 .4 1 1v2.4" fill="#fbead0" stroke="#d6a06a" stroke-width="1"/><path d="M2.3 16.4L7.4 7.6h15.3L17.6 16.4z" fill="#fdf3e1" stroke="#d6a06a" stroke-width="1" stroke-linejoin="round"/></svg>
<svg class="a" style="left:762px;top:7px" width="26" height="26" viewBox="0 0 26 26"><defs><linearGradient id="rg" x1="0" y1="0" x2="0" y2="1"><stop offset="0" stop-color="#4fa628"/><stop offset=".35" stop-color="#9be070"/><stop offset="1" stop-color="#4aa524"/></linearGradient><linearGradient id="rg2" x1="0" y1="0" x2="0" y2="1"><stop offset="0" stop-color="#4aa524"/><stop offset="1" stop-color="#6fc043"/></linearGradient></defs>
<path d="M1.5 11.5C1.2 3.5 16.5 -1.5 21.5 6.7L22.7 4.2L24.2 12L17.4 10.8L19.2 9.1C15.8 5.6 8.7 6.6 6.5 11.8Z" fill="url(#rg)" stroke="#3f9a1f" stroke-width=".7" stroke-linejoin="round"/><path transform="rotate(180 12.85 13.05)" d="M1.5 11.5C1.2 3.5 16.5 -1.5 21.5 6.7L22.7 4.2L24.2 12L17.4 10.8L19.2 9.1C15.8 5.6 8.7 6.6 6.5 11.8Z" fill="url(#rg2)" stroke="#3f9a1f" stroke-width=".7" stroke-linejoin="round"/></svg>
<svg class="a" style="left:795px;top:7px" width="29" height="27" viewBox="0 0 29 27"><defs><radialGradient id="dg" cx="45%" cy="35%" r="70%"><stop offset="0" stop-color="#86cc52"/><stop offset=".6" stop-color="#4a9c26"/><stop offset="1" stop-color="#1f5a0e"/></radialGradient><linearGradient id="sg" x1="0" y1="0" x2="0" y2="1"><stop offset="0" stop-color="#ffffff"/><stop offset=".7" stop-color="#ecebe6"/><stop offset="1" stop-color="#c9d4cc"/></linearGradient></defs>
<ellipse cx="17" cy="24.2" rx="12.6" ry="1.4" fill="#0a0a0a" opacity=".9"/><circle cx="16.4" cy="12.6" r="10.7" fill="url(#dg)"/>
<path d="M21.5 6C18 2.8 10.5 3.2 10 8.6C9.8 13.3 20.8 11.8 20.8 17C20.8 20.8 17 22.3 13.8 21.3" fill="none" stroke="url(#sg)" stroke-width="5.2" stroke-linecap="butt"/><path d="M19.2 2.3L24.3 4.3L20.8 8.3ZM16.3 24.8L11 23.3L14.3 18.8Z" fill="#f1f1ee"/></svg>
<svg class="a" style="left:831px;top:7px" width="27" height="27" viewBox="0 0 27 27"><defs><linearGradient id="eg" x1="0" y1="0" x2="1" y2="1"><stop offset="0" stop-color="#ffffff"/><stop offset=".55" stop-color="#e6e6e6"/><stop offset="1" stop-color="#a39f9c"/></linearGradient></defs>
<g transform="rotate(17 13 13) translate(.3 .3)"><path d="M22.3 5.6A10.3 10.3 0 1 0 22.3 20.4L19.7 17.3A6.4 6.4 0 1 1 19.7 8.7ZM2.3 9.3H15.5L14.6 11.9H2.3ZM2.3 14H14.6L15.5 16.6H2.3Z" transform="translate(-.9 1.5)" fill="#6e6562" stroke="#675e5b" stroke-width=".9" stroke-linejoin="round"/><path d="M22.3 5.6A10.3 10.3 0 1 0 22.3 20.4L19.7 17.3A6.4 6.4 0 1 1 19.7 8.7ZM2.3 9.3H15.5L14.6 11.9H2.3ZM2.3 14H14.6L15.5 16.6H2.3Z" fill="url(#eg)" stroke="#8a8380" stroke-width=".5" stroke-linejoin="round"/></g></svg>
<svg class="a" style="left:864px;top:5px" width="30" height="31" viewBox="0 0 30 31"><defs><radialGradient id="gg" cx="45%" cy="35%" r="75%"><stop offset="0" stop-color="#b9b9b9"/><stop offset=".6" stop-color="#8b8b8b"/><stop offset="1" stop-color="#666"/></radialGradient></defs><path d="M25.50 12.98L28.79 13.09L28.79 17.91L25.50 18.02L24.21 21.14L26.45 23.55L23.05 26.95L20.64 24.71L17.52 26.00L17.41 29.29L12.59 29.29L12.48 26.00L9.36 24.71L6.95 26.95L3.55 23.55L5.79 21.14L4.50 18.02L1.21 17.91L1.21 13.09L4.50 12.98L5.79 9.86L3.55 7.45L6.95 4.05L9.36 6.29L12.48 5.00L12.59 1.71L17.41 1.71L17.52 5.00L20.64 6.29L23.05 4.05L26.45 7.45L24.21 9.86Z" fill="url(#gg)" stroke="#5e5e5e" stroke-width="1" stroke-linejoin="round"/><circle cx="15" cy="15.5" r="6.2" fill="none" stroke="#a9a9a9" stroke-width="1.5"/><circle cx="15" cy="15.5" r="3" fill="#f2f2f2" stroke="#555" stroke-width="1"/></svg>
<svg class="a" style="left:900px;top:7px" width="28" height="27" viewBox="0 0 28 27"><g transform="rotate(-7 14 13.5)"><rect x="3.3" y="3.8" width="21.5" height="19.5" rx="1.2" fill="#fbfbfb" stroke="#9a9a9a" stroke-width=".9"/><path d="M3.3 8.3V5c0-.7.5-1.2 1.2-1.2h19.1c.7 0 1.2.5 1.2 1.2v3.3z" fill="#58b41d"/><path d="M4.5 23.8h20" stroke="#777" stroke-width=".9"/><text x="14" y="20.8" text-anchor="middle" font-family="'Liberation Sans',Arial,sans-serif" font-size="12.5" fill="#333" letter-spacing="-.6">17</text></g></svg>
<div class="rd" style="left:961.8px;top:14.75px"></div>
<div class="rd" style="left:961.8px;top:465.65px"></div>
<div class="a" style="left:961.3px;top:573px;width:5.8px;height:5.8px;border-radius:50%;border:4.2px solid #2f7cf6;background:#fff"></div>
<div class="rd" style="left:961.8px;top:675.7px"></div>
<div class="b " style="top:36px"><svg width="32" height="20" viewBox="0 0 32 20"><rect x="7.5" y="1.5" width="16" height="17" fill="#dedede" opacity=".6"/><circle cx="12.6" cy="8" r="4" fill="#cfcfcf" stroke="#2a2a2a" stroke-width="1.3"/><circle cx="11.6" cy="7" r="1.6" fill="#f4f4f4"/><path d="M15.7 11.2L21.3 16.3" stroke="#1a1a1a" stroke-width="2" stroke-linecap="round"/></svg></div>
<div class="a" style="left:953px;top:61px;width:32px;height:22px;background:#fdf9fa;overflow:hidden"><svg width="32" height="22" viewBox="0 0 32 22"><path d="M1.8 21V5L2.4 1L3.2 4L4 6V21zM5 21V8.5L6.4 6.2L7.6 8L8.8 17.8H11.8L13.2 11L14.4 4L15.4 9L16.6 12.2L17.8 17H20L21 21zM25 21V15.5L26.2 13L27.6 11L29 13L30.2 15.5V21z" fill="#4b4fa8"/><rect x="1.8" y="20.8" width="28.5" height="1" fill="#4b4fa8"/><path d="M4.4 .5V21M18.6 .5V21" stroke="#b9b9cf" stroke-width=".9"/><path d="M2 6.4L4.4 8.6L7.8 8.4L8.6 7.4L14.2 7.6L15.8 7L16.4 5.4L17.4 7.4L19.4 8.4L21 7.6L23.4 11.4L25.8 7.6L28.2 7.5L29.8 8.6" fill="none" stroke="#de1212" stroke-width="1.5" stroke-linejoin="round"/><path d="M2 .6H.6V21.4M30 .6H31.4V21.4" fill="none" stroke="#9a9a9a" stroke-width="1"/></svg></div>
<div class="b " style="top:85px"><svg width="32" height="20" viewBox="0 0 32 20"><path d="M3.5 9.5H27" stroke="#e3262a" stroke-width="2.5"/></svg></div>
<div class="b " style="top:110px"><svg width="32" height="20" viewBox="0 0 32 20"><path d="M3.5 9.5H27" stroke="#2a3cff" stroke-width="2.5"/></svg></div>
<div class="b " style="top:135px"><svg width="32" height="20" viewBox="0 0 32 20"><path d="M3.5 15.5L18.8 -.5M11 20.5L26.6 5" stroke="#222" stroke-width="1.1"/><path d="M8.5 10.8L11.3 19.9L14.5 7.7L17 14.5L18.6 .2L26 4L21.6 9.7" fill="none" stroke="#2a2aee" stroke-width="1.1" stroke-linejoin="miter"/></svg></div>
<div class="b " style="top:160px"><svg width="32" height="20" viewBox="0 0 32 20"><path d="M4.3 20.5L26.2 -.7" stroke="#16201f" stroke-width="1.7"/><path d="M19.4 -.2L18.2 6.1L24.8 5.1M7.5 13L13.1 12.95L12.6 18.8" fill="none" stroke="#2a2aee" stroke-width="1.5"/></svg></div>
<div class="b " style="top:185px"><svg width="32" height="20" viewBox="0 0 32 20"><path d="M4.3 20.5L26.2 -.7" stroke="#16201f" stroke-width="1.7"/><path d="M19.4 -.2L18.2 6.1L24.8 5.1M7.5 13L13.1 12.95L12.6 18.8" fill="none" stroke="#2a2aee" stroke-width="1.5"/><path d="M11.8 4.3H5.3L9 7.3L5.3 10.3h6.8" fill="none" stroke="#e3161e" stroke-width="1.7"/></svg></div>
<div class="b " style="top:210px"><svg width="32" height="20" viewBox="0 0 32 20"><path d="M13.3 4.5h4.6v3.5h3.5L15.6 14.8L9.8 8h3.5z" fill="#f00c0c"/></svg></div>
<div class="b " style="top:235px"><svg width="32" height="20" viewBox="0 0 32 20"><path d="M13.3 14.8h4.6v-3.5h3.5L15.6 4.5L9.8 11.3h3.5z" fill="#1414ff"/></svg></div>
<div class="b " style="top:260px"><svg width="32" height="20" viewBox="0 0 32 20"><path d="M6.5 5.5h2v3h3v2h-3v3h-2v-3h-3v-2h3z" fill="#9ad06a" stroke="#4ea31f" stroke-width=".9"/><path d="M16.5 5.3h4v3h3.2L18.5 14l-5.2-5.7h3.2z" fill="#e01b12"/><path d="M27 11.5l2.3 2.5l-2.3 2.5l-2.3-2.5z" fill="#fff" stroke="#e01b12" stroke-width=".9"/></svg></div>
<div class="b br" style="top:285px"><svg width="32" height="20" viewBox="0 0 32 20"><path d="M-1 -.5H1.5M-1 20.5H1.5M32 -.5H29.5M32 20.5H29.5" stroke="#9f9f9f" stroke-width="1" fill="none"/><path d="M3.1 6h6.8M12.2 6h6.4M21.3 6h5.8M3.1 11h6.8M12.2 11h6.4M21.3 11h5.8M3.1 16h6.8M12.2 16h6.4M21.3 16h5.8" stroke="#343434" stroke-width="1.9"/></svg></div>
<div class="b br" style="top:311px"><svg width="32" height="20" viewBox="0 0 32 20"><path d="M-1 -.5H1.5M-1 20.5H1.5M32 -.5H29.5M32 20.5H29.5" stroke="#9f9f9f" stroke-width="1" fill="none"/><path d="M2.1 1.4h16M2.1 18.3h16" stroke="#1414ff" stroke-width="1.2"/><path d="M9.5 2v16" stroke="#1414ff" stroke-width="1.5"/><path d="M9.5 1.8l3.4 3.5h-1.3v1.2h-4.2v-1.2h-1.3zM9.5 18l3.4-3.5h-1.3v-1.2h-4.2v1.2h-1.3z" fill="#1414ff"/><text transform="translate(19 16.3) scale(.6 1.06)" font-family="'Liberation Sans',Arial,sans-serif" font-size="17" fill="#111" stroke="#111" stroke-width=".2">%</text></svg></div>
<div class="b " style="top:335px"><svg width="32" height="20" viewBox="0 0 32 20"><path d="M5 4.5h12.5" stroke="#2a5cff" stroke-width="1.3"/><path d="M5 10h12.5" stroke="#111" stroke-width="1.3"/><path d="M5 15.5h12.5" stroke="#e6412f" stroke-width="1.6"/><text transform="translate(19 16.3) scale(.6 1.06)" font-family="'Liberation Sans',Arial,sans-serif" font-size="17" fill="#111" stroke="#111" stroke-width=".2">%</text></svg></div>
<div class="b " style="top:361px"><svg width="32" height="20" viewBox="0 0 32 20"><rect x="6.5" y=".5" width="18.5" height="19" fill="#d9d9e4" opacity=".8"/><circle cx="15.6" cy="10" r="7.4" fill="#ecd9dc" stroke="#c02a30" stroke-width="2.3"/><path d="M10.3 4.8l10.6 10.4" stroke="#c02a30" stroke-width="2.3"/></svg></div>
<div class="b " style="top:385px"><svg width="32" height="20" viewBox="0 0 32 20"><defs><radialGradient id="rdg"><stop offset="0" stop-color="#ffe0e0"/><stop offset=".25" stop-color="#ff8a8a"/><stop offset=".8" stop-color="#fb3a44"/><stop offset="1" stop-color="#f01020"/></radialGradient></defs><circle cx="15.2" cy="9.8" r="5.6" fill="url(#rdg)" stroke="#f00c1c" stroke-width="1"/></svg></div>
<div class="b " style="top:408px"><svg width="32" height="20" viewBox="0 0 32 20"><path d="M9.3 9.8C10.5 5.8 13.5 4.3 16.3 4.8L16.3 2.3L20.6 6L16 9.8L16.2 7.3C13.5 7 11.5 7.8 9.3 9.8Z" fill="#2b62e0" stroke="#1f54cf" stroke-width=".5"/><path d="M20.6 11.2C19.4 15.2 16.4 16.7 13.6 16.2L13.6 18.7L9.3 15L13.9 11.2L13.7 13.7C16.4 14 18.4 13.2 20.6 11.2Z" fill="#2b62e0" stroke="#1f54cf" stroke-width=".5"/></svg></div>
<div class="b w" style="top:487px"><svg width="32" height="20" viewBox="0 0 32 20"><path d="M7.2 5h4.4v3.8h3.3L9.4 15L3.9 8.8h3.3z" fill="#e01b12"/><path d="M20.3 15h4.4v-3.8h3.3L22.5 5l-5.5 6.2h3.3z" fill="#62b52c"/></svg></div>
<div class="b " style="top:513px"><svg width="32" height="20" viewBox="0 0 32 20"><path d="M5 4.5h12.5" stroke="#2a5cff" stroke-width="1.3"/><path d="M5 10h12.5" stroke="#111" stroke-width="1.3"/><path d="M5 15.5h12.5" stroke="#e6412f" stroke-width="1.6"/><text transform="translate(19 16.3) scale(.6 1.06)" font-family="'Liberation Sans',Arial,sans-serif" font-size="17" fill="#111" stroke="#111" stroke-width=".2">%</text></svg></div>
<div class="b " style="top:541px"><svg width="32" height="20" viewBox="0 0 32 20"><path d="M4 12.5h3M9 12.5h1.5M12.5 12.5h3M17.5 12.5h1.5M21 12.5h3M26 12.5h1.5" stroke="#3aa024" stroke-width="1"/><path d="M23 11v5" stroke="#55a" stroke-width=".8" stroke-dasharray="1.5 1.5"/><path d="M1.5 2.5C5.5 4.5 9 12 13.6 18C17.5 13 20.5 7 23.5 -.8" fill="none" stroke="#1414ff" stroke-width="2"/><path d="M1.5 2.5C6.5 3 11 10 16.3 15.5C21 13.5 24.5 6.5 27.3 -.8" fill="none" stroke="#e01b12" stroke-width="2"/></svg></div>
<div class="b w" style="top:595px"><svg width="32" height="20" viewBox="0 0 32 20"><path d="M7.2 5h4.4v3.8h3.3L9.4 15L3.9 8.8h3.3z" fill="#e01b12"/><path d="M20.3 15h4.4v-3.8h3.3L22.5 5l-5.5 6.2h3.3z" fill="#62b52c"/></svg></div>
<div class="b " style="top:619px"><svg width="32" height="20" viewBox="0 0 32 20"><path d="M5 4.5h12.5" stroke="#2a5cff" stroke-width="1.3"/><path d="M5 10h12.5" stroke="#111" stroke-width="1.3"/><path d="M5 15.5h12.5" stroke="#e6412f" stroke-width="1.6"/><text transform="translate(19 16.3) scale(.6 1.06)" font-family="'Liberation Sans',Arial,sans-serif" font-size="17" fill="#111" stroke="#111" stroke-width=".2">%</text></svg></div>
<div class="b " style="top:643px"><svg width="32" height="20" viewBox="0 0 32 20"><path d="M4 12.5h3M9 12.5h1.5M12.5 12.5h3M17.5 12.5h1.5M21 12.5h3M26 12.5h1.5" stroke="#3aa024" stroke-width="1"/><path d="M23 11v5" stroke="#55a" stroke-width=".8" stroke-dasharray="1.5 1.5"/><path d="M1.5 2.5C5.5 4.5 9 12 13.6 18C17.5 13 20.5 7 23.5 -.8" fill="none" stroke="#1414ff" stroke-width="2"/><path d="M1.5 2.5C6.5 3 11 10 16.3 15.5C21 13.5 24.5 6.5 27.3 -.8" fill="none" stroke="#e01b12" stroke-width="2"/></svg></div>
<div class="b w" style="top:697px"><svg width="32" height="20" viewBox="0 0 32 20"><path d="M7.2 5h4.4v3.8h3.3L9.4 15L3.9 8.8h3.3z" fill="#e01b12"/><path d="M20.3 15h4.4v-3.8h3.3L22.5 5l-5.5 6.2h3.3z" fill="#62b52c"/></svg></div>
<div class="b " style="top:722px"><svg width="32" height="20" viewBox="0 0 32 20"><path d="M5 4.5h12.5" stroke="#2a5cff" stroke-width="1.3"/><path d="M5 10h12.5" stroke="#111" stroke-width="1.3"/><path d="M5 15.5h12.5" stroke="#e6412f" stroke-width="1.6"/><text transform="translate(19 16.3) scale(.6 1.06)" font-family="'Liberation Sans',Arial,sans-serif" font-size="17" fill="#111" stroke="#111" stroke-width=".2">%</text></svg></div>
<div class="b " style="top:747px"><svg width="32" height="20" viewBox="0 0 32 20"><path d="M4 12.5h3M9 12.5h1.5M12.5 12.5h3M17.5 12.5h1.5M21 12.5h3M26 12.5h1.5" stroke="#3aa024" stroke-width="1"/><path d="M23 11v5" stroke="#55a" stroke-width=".8" stroke-dasharray="1.5 1.5"/><path d="M1.5 2.5C5.5 4.5 9 12 13.6 18C17.5 13 20.5 7 23.5 -.8" fill="none" stroke="#1414ff" stroke-width="2"/><path d="M1.5 2.5C6.5 3 11 10 16.3 15.5C21 13.5 24.5 6.5 27.3 -.8" fill="none" stroke="#e01b12" stroke-width="2"/></svg></div>
</div></body></html>
